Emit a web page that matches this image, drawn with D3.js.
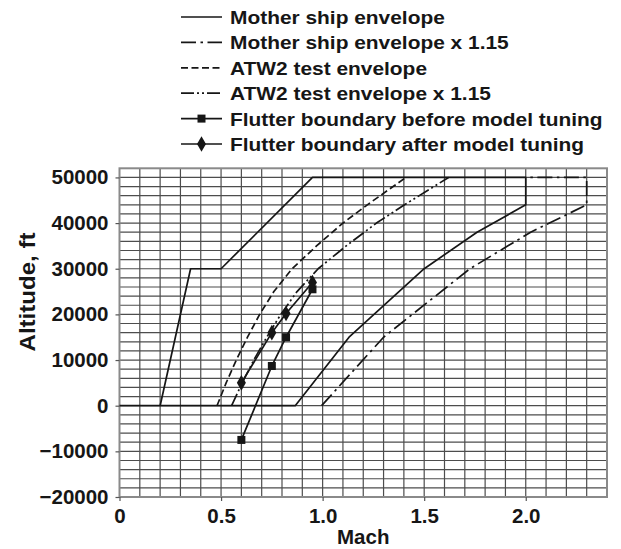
<!DOCTYPE html>
<html><head><meta charset="utf-8">
<script src="https://cdn.jsdelivr.net/npm/d3@7"></script>
<style>
html,body{margin:0;padding:0;background:#fff;}
svg{display:block;font-family:"Liberation Sans",Arial,Helvetica,sans-serif;font-weight:bold;}
</style>
</head><body>
<svg id="c" width="621" height="549"></svg>
<script>
// ---------- data ----------
const machTicks = [0, 0.5, 1.0, 1.5, 2.0];
const machTickLabels = ["0", "0.5", "1.0", "1.5", "2.0"];
const altTicks = [-20000, -10000, 0, 10000, 20000, 30000, 40000, 50000];

const motherShipMach = [0, 0.2, 0.35, 0.5, 0.95, 2.0, 2.0, 1.76, 1.5, 1.13, 0.865, 0];
const motherShipAlt  = [0, 0, 30000, 30000, 50000, 50000, 44000, 38000, 30000, 15000, 0, 0];

const motherShip115Mach = [0.995, 1.3, 1.725, 2.024, 2.3, 2.3, 2.0];
const motherShip115Alt  = [0, 15000, 30000, 38000, 44000, 50000, 50000];

const atw2Mach = [0.48, 0.525, 0.575, 0.63, 0.69, 0.76, 0.85, 0.97, 1.1, 1.22, 1.41];
const atw2Alt  = [0, 5000, 10000, 15000, 20000, 25000, 30000, 35000, 40000, 44000, 50000];

const atw2115Mach = [0.552, 0.604, 0.661, 0.725, 0.794, 0.874, 0.978, 1.116, 1.265, 1.403, 1.62];
const atw2115Alt  = [0, 5000, 10000, 15000, 20000, 25000, 30000, 35000, 40000, 44000, 50000];

const flutterBeforeMach = [0.6, 0.75, 0.82, 0.95];
const flutterBeforeAlt  = [-7500, 8700, 15000, 25500];

const flutterAfterMach = [0.6, 0.75, 0.82, 0.95];
const flutterAfterAlt  = [5000, 16000, 20200, 27000];

const legendLabels = [
  "Mother ship envelope",
  "Mother ship envelope x 1.15",
  "ATW2 test envelope",
  "ATW2 test envelope x 1.15",
  "Flutter boundary before model tuning",
  "Flutter boundary after model tuning"
];

// ---------- layout ----------
const svg = d3.select("#c");
const L = 119.5, R = 607, T = 168.3, B = 497;
const x = d3.scaleLinear().domain([0, 2.4]).range([L, R]);
const y = d3.scaleLinear().domain([-20000, 52000]).range([B, T]);
const INK = "#161616";

// grid
const g = svg.append("g");
g.selectAll("line.v").data(d3.range(1, 24).map(i => i / 10)).join("line")
  .attr("x1", d => x(d)).attr("x2", d => x(d)).attr("y1", T).attr("y2", B)
  .attr("stroke", "#4d4d4d").attr("stroke-width", 1.2);
g.selectAll("line.h").data(d3.range(-9, 26).map(i => i * 2000)).join("line")
  .attr("x1", L).attr("x2", R).attr("y1", d => y(d)).attr("y2", d => y(d))
  .attr("stroke", "#4d4d4d").attr("stroke-width", 1.2);
svg.append("rect").attr("x", L).attr("y", T).attr("width", R - L).attr("height", B - T)
  .attr("fill", "none").attr("stroke", "#8a8a8a").attr("stroke-width", 2);

// series
const line = d3.line().x(d => x(d[0])).y(d => y(d[1]));
const zip = (a, b) => a.map((v, i) => [v, b[i]]);
const series = [
  {pts: zip(motherShipMach, motherShipAlt), dash: null},
  {pts: zip(motherShip115Mach, motherShip115Alt), dash: "15,4.5,2.5,4.5"},
  {pts: zip(atw2Mach, atw2Alt), dash: "7,3.5"},
  {pts: zip(atw2115Mach, atw2115Alt), dash: "13,3,2,3,2,3"},
  {pts: zip(flutterBeforeMach, flutterBeforeAlt), dash: null, marker: "square"},
  {pts: zip(flutterAfterMach, flutterAfterAlt), dash: null, marker: "diamond"}
];
series.forEach(s => {
  svg.append("path").attr("d", line(s.pts)).attr("fill", "none")
    .attr("stroke", INK).attr("stroke-width", 1.7)
    .attr("stroke-linejoin", "round")
    .attr("stroke-dasharray", s.dash);
});
const sym = {
  square: d3.symbol().type(d3.symbolSquare).size(64),
  diamond: d3.symbol().type(d3.symbolDiamond).size(70)
};
series.filter(s => s.marker).forEach(s => {
  svg.selectAll(null).data(s.pts).join("path")
    .attr("transform", d => `translate(${x(d[0])},${y(d[1])})`)
    .attr("d", sym[s.marker]()).attr("fill", INK);
});

// axes
const yAxis = svg.append("g").attr("transform", `translate(${L},0)`)
  .call(d3.axisLeft(y).tickValues(altTicks).tickSize(4).tickPadding(7).tickFormat(d3.format("d")));
yAxis.select(".domain").remove();
yAxis.selectAll("line").attr("stroke", "#555").attr("stroke-width", 1.2);
yAxis.selectAll("text").attr("font-size", 20.5).attr("font-weight", "bold")
  .attr("font-family", "'Liberation Sans', Arial, sans-serif").attr("fill", INK);

const xAxis = svg.append("g").attr("transform", `translate(0,${B})`)
  .call(d3.axisBottom(x).tickValues(machTicks).tickSize(4).tickPadding(7)
    .tickFormat((d, i) => machTickLabels[i]));
xAxis.select(".domain").remove();
xAxis.selectAll("line").attr("stroke", "#555").attr("stroke-width", 1.2);
xAxis.selectAll("text").attr("font-size", 20.5).attr("font-weight", "bold")
  .attr("font-family", "'Liberation Sans', Arial, sans-serif").attr("fill", INK);

svg.append("text").attr("x", (L + R) / 2).attr("y", 544).attr("text-anchor", "middle")
  .attr("font-size", 20.5).attr("fill", INK).text("Mach");
svg.append("text").attr("transform", `translate(35,292) rotate(-90) scale(1.12,1)`).attr("text-anchor", "middle")
  .attr("font-size", 21.5).attr("fill", INK).text("Altitude, ft");

// legend
const lg = svg.append("g");
legendLabels.forEach((lab, i) => {
  const cy = 17 + i * 25.4;
  const s = series[i];
  lg.append("line").attr("x1", 181).attr("x2", 222).attr("y1", cy).attr("y2", cy)
    .attr("stroke", INK).attr("stroke-width", 1.7).attr("stroke-dasharray", s.dash);
  if (s.marker) {
    lg.append("path").attr("transform", `translate(201.5,${cy})`).attr("d", sym[s.marker]()).attr("fill", INK);
  }
  lg.append("text").attr("transform", `translate(230,${cy + 6.9}) scale(1.1,1)`)
    .attr("font-size", 19).attr("fill", INK).text(lab);
});
</script>
</body></html>
